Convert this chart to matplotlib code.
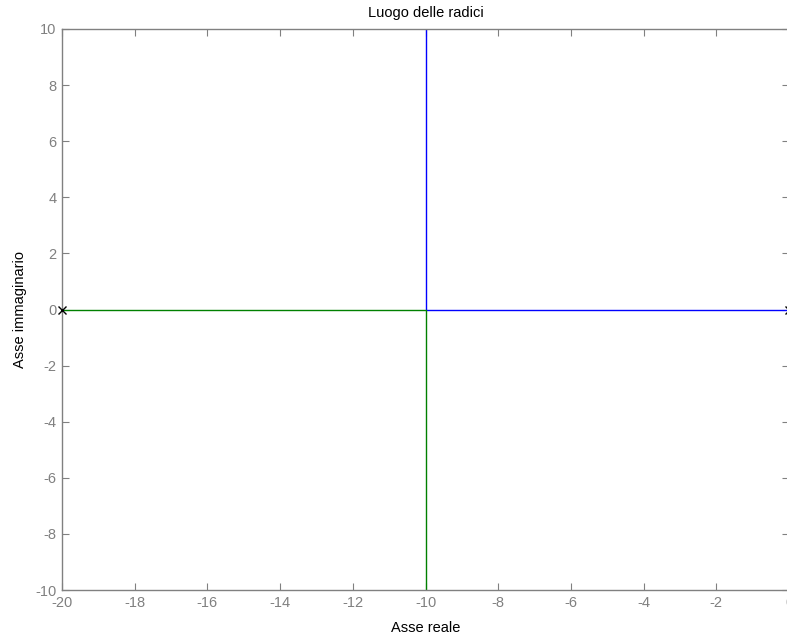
import numpy as np
import matplotlib
matplotlib.use("Agg")
import matplotlib.pyplot as plt

plt.rcParams['font.family'] = ['Liberation Sans', 'DejaVu Sans']
plt.rcParams['axes.unicode_minus'] = False

# rami del luogo delle radici
ramo1_re = [0, -10, -10]
ramo1_im = [0, 0, 12]
ramo2_re = [-20, -10, -10]
ramo2_im = [0, 0, -12]

# poli in anello aperto
poli_re = [-20, 0]
poli_im = [0, 0]

xticks = [-20, -18, -16, -14, -12, -10, -8, -6, -4, -2, 0]
yticks = [-10, -8, -6, -4, -2, 0, 2, 4, 6, 8, 10]

grigio = "#808080"

fig = plt.figure(figsize=(7.87, 6.35), dpi=100)
ax = fig.add_axes([62/787, 1-590/635, 727/787, 561/635])

ax.axhline(0, color="k", lw=0.6, zorder=1)
ax.plot(ramo1_re, ramo1_im, color=(0, 0, 1), lw=1)
ax.plot(ramo2_re, ramo2_im, color=(0, 0.5, 0), lw=1)
ax.plot(poli_re, poli_im, "x", color="k", ms=6, mew=1, clip_on=False, zorder=5)

ax.set_xlim(-20, 0)
ax.set_ylim(-10, 10)
ax.set_xticks(xticks)
ax.set_yticks(yticks)
ax.set_xticklabels([str(v) for v in xticks])
ax.set_yticklabels([str(v) for v in yticks])
ax.tick_params(direction="in", top=True, right=True, length=5, width=0.8,
               color=grigio, labelcolor=grigio, labelsize=10.5, pad=4)
for s in ax.spines.values():
    s.set_color(grigio)
    s.set_linewidth(1)

ax.set_title("Luogo delle radici", fontsize=10.5, pad=9)
ax.set_xlabel("Asse reale", fontsize=10.5, labelpad=8)
ax.set_ylabel("Asse immaginario", fontsize=10.5, labelpad=6)

fig.savefig("out.png", dpi=100)
